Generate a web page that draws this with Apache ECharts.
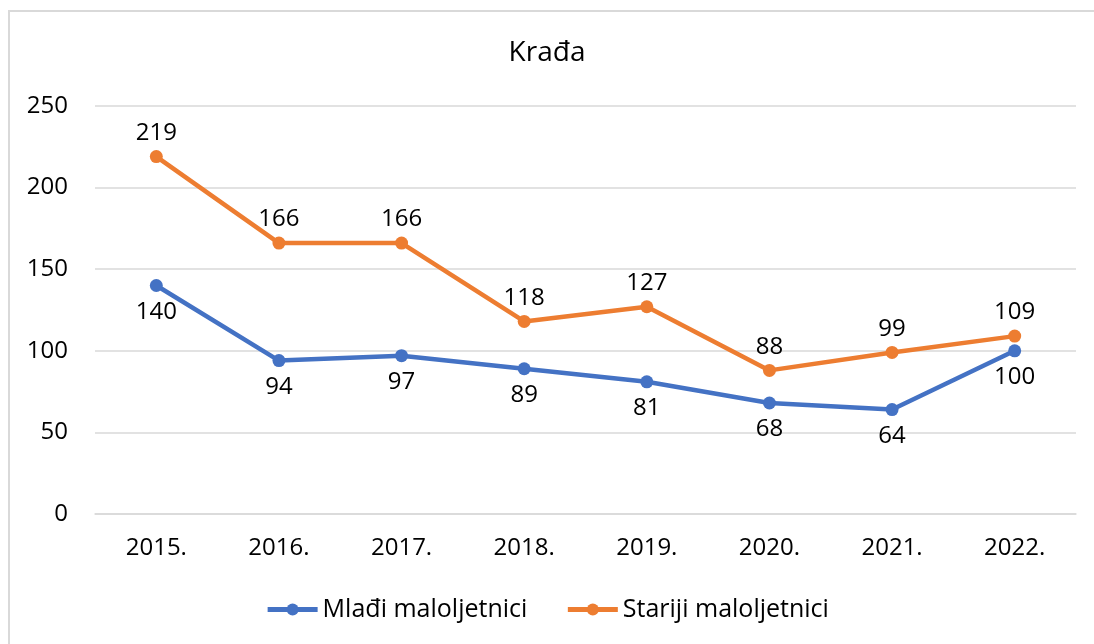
<!DOCTYPE html>
<html>
<head>
<meta charset="utf-8">
<script src="https://cdn.jsdelivr.net/npm/echarts@6/dist/echarts.min.js"></script>
<style>
  html, body { margin: 0; padding: 0; background: #fff; overflow: hidden; }
  #frame { position: absolute; left: 8px; top: 10px; right: 0; bottom: 0; border-left: 2px solid #d9d9d9; border-top: 2px solid #d9d9d9; }
  #chart { position: absolute; left: 0; top: 0; width: 1094px; height: 644px; }
</style>
</head>
<body>
<div id="frame"></div>
<div id="chart"></div>
<script>
// ---- data ----
const years = ["2015.", "2016.", "2017.", "2018.", "2019.", "2020.", "2021.", "2022."];
const mladi = [140, 94, 97, 89, 81, 68, 64, 100];
const stariji = [219, 166, 166, 118, 127, 88, 99, 109];
const yTicks = { min: 0, max: 250, interval: 50 };

const font = "'Open Sans', sans-serif";
const lineSeries = (name, data, color, pos, dist) => ({
  name, type: "line", data,
  symbol: "circle", symbolSize: 13,
  lineStyle: { width: 4.5, color },
  itemStyle: { color },
  label: { show: true, position: pos, distance: dist, color: "#000", fontSize: 24, fontFamily: font },
});

const chart = echarts.init(document.getElementById("chart"), null, { renderer: "canvas" });
chart.setOption({
  animation: false,
  textStyle: { fontFamily: font },
  title: {
    text: "Krađa", left: "center", top: 34,
    textStyle: { fontSize: 28, fontWeight: "normal", color: "#000", fontFamily: font },
  },
  legend: {
    bottom: 17, left: "center", itemWidth: 50, itemHeight: 15, itemGap: 38,
    lineStyle: { width: 5 },
    textStyle: { fontSize: 25, color: "#000", fontFamily: font },
    data: ["Mlađi maloljetnici", "Stariji maloljetnici"],
  },
  grid: { left: 95, right: 18, top: 106, bottom: 130 },
  xAxis: {
    type: "category", data: years, boundaryGap: true,
    axisLine: { lineStyle: { color: "#d9d9d9", width: 1.5 } },
    axisTick: { show: false },
    axisLabel: { color: "#000", fontSize: 24, margin: 22, fontFamily: font },
  },
  yAxis: {
    type: "value", ...yTicks,
    axisLine: { show: false }, axisTick: { show: false },
    splitLine: { lineStyle: { color: "#d9d9d9", width: 1.5 } },
    axisLabel: { color: "#000", fontSize: 24, margin: 27, fontFamily: font },
  },
  series: [
    lineSeries("Mlađi maloljetnici", mladi, "#4472C4", "bottom", 8),
    lineSeries("Stariji maloljetnici", stariji, "#ED7D31", "top", 5),
  ],
});
</script>
</body>
</html>
